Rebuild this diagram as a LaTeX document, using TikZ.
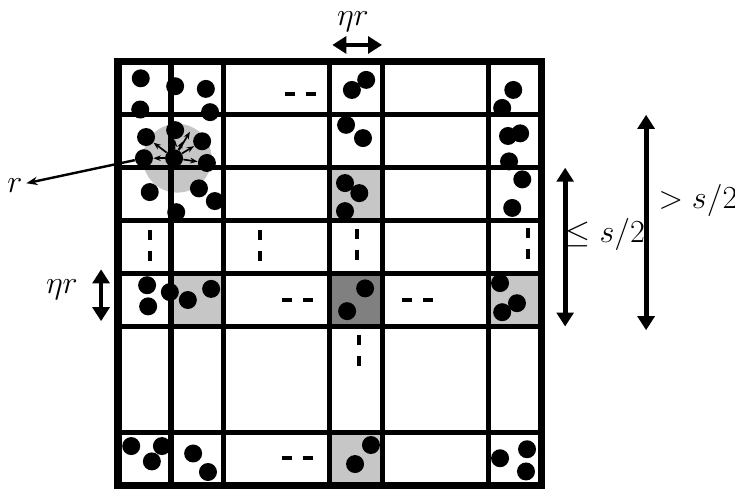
\documentclass[tikz,border=0pt]{standalone}
\usetikzlibrary{arrows.meta,positioning}

\begin{document}
\begin{tikzpicture}[
  dot/.style={circle,fill=black,inner sep=0pt,minimum size=0.34cm},
  cellline/.style={line width=2.8pt},
  ellip/.style={line width=2.2pt,dash pattern=on 0.19cm off 0.2cm},
  measure/.style={line width=2.6pt,{Triangle[length=7.5pt,width=9pt]}-{Triangle[length=7.5pt,width=9pt]}},
  spoke/.style={line width=0.9pt,-{Stealth[length=4pt]}},
  lbl/.style={font=\fontsize{16}{19}\selectfont,inner sep=0pt}
]
\useasboundingbox (-2.23,-0.08) rectangle (11.66,9.17);

% shaded cells and neighbourhood
\fill[gray!45] (4,5) rectangle (5,6);
\fill[gray!45] (1,3) rectangle (2,4);
\fill[gray] (4,3) rectangle (5,4);
\fill[gray!45] (7,3) rectangle (8,4);
\fill[gray!45] (4,0) rectangle (5,1);
\fill[gray!45] (1.12,6.18) circle (0.65);

% grid
\foreach \x in {1,2,4,5,7} \draw[cellline] (\x,0) -- (\x,8);
\foreach \y in {1,3,4,5,6,7} \draw[cellline] (0,\y) -- (8,\y);
\draw[line width=3.8pt] (0,0) rectangle (8,8);

% points
\node[dot] (ctr) at (1.06,6.18) {};
\foreach \x/\y [count=\i] in {0.43/7.69,1.08/7.54,1.66/7.49,0.42/7.10,1.74/7.05,1.08/6.71,0.53/6.58,1.59/6.50,0.49/6.18,1.68/6.09,0.60/5.54,1.53/5.61,1.83/5.37,1.10/5.16}
  \node[dot] (tl\i) at (\x,\y) {};
\foreach \x/\y [count=\i] in {4.42/7.47,4.69/7.66,4.31/6.81,4.63/6.56,4.29/5.71,4.56/5.52,4.29/5.18}
  \node[dot] (cm\i) at (\x,\y) {};
\foreach \x/\y [count=\i] in {7.47/7.47,7.26/7.13,7.60/6.65,7.37/6.60,7.39/6.12,7.64/5.78,7.45/5.24}
  \node[dot] (cr\i) at (\x,\y) {};
\foreach \x/\y [count=\i] in {0.55/3.78,0.57/3.38,0.98/3.65,1.32/3.50,1.76/3.71,4.67/3.72,4.33/3.29,7.22/3.82,7.54/3.44,7.26/3.27}
  \node[dot] (mr\i) at (\x,\y) {};
\foreach \x/\y [count=\i] in {0.25/0.74,0.64/0.45,0.83/0.74,1.42/0.60,1.70/0.25,4.48/0.40,4.78/0.76,7.22/0.51,7.73/0.68,7.71/0.26}
  \node[dot] (bt\i) at (\x,\y) {};

% neighbours of the centre point
\coordinate (sp1) at (1.36,6.68);
\coordinate (sp2) at (1.23,6.50);
\draw[spoke] (ctr) -- (tl7);
\draw[spoke] (ctr) -- (tl6);
\draw[spoke] (ctr) -- (sp1);
\draw[spoke] (ctr) -- (sp2);
\draw[spoke] (ctr) -- (tl8);
\draw[spoke] (ctr) -- (tl10);
\draw[spoke] (ctr) -- (tl9);

\node[lbl] (rlab) at (-1.95,5.66) {$r$};
\draw[line width=1.3pt,-{Stealth[length=6pt]},shorten >=2pt] (tl9) -- (rlab);

% omitted cells
\draw[ellip] (3.16,7.39) -- (3.75,7.39);
\draw[ellip] (3.10,3.50) -- (3.69,3.50);
\draw[ellip] (5.37,3.50) -- (5.96,3.50);
\draw[ellip] (3.10,0.51) -- (3.69,0.51);
\draw[ellip] (0.60,4.82) -- (0.60,4.23);
\draw[ellip] (2.68,4.82) -- (2.68,4.23);
\draw[ellip] (4.52,4.84) -- (4.52,4.25);
\draw[ellip] (7.75,4.86) -- (7.75,4.27);
\draw[ellip] (4.56,2.84) -- (4.56,2.25);

% sizes
\coordinate (wl) at (4.05,8.32);
\coordinate (wr) at (4.99,8.32);
\draw[measure] (wl) -- (wr);
\node[lbl] (etatop) at (4.44,8.76) {$\eta r$};

\coordinate (hu) at (-0.32,4.08);
\coordinate (hd) at (-0.32,3.10);
\draw[measure] (hu) -- (hd);
\node[lbl] (etaleft) at (-1.06,3.69) {$\eta r$};

\coordinate (su) at (8.45,6.0);
\coordinate (sd) at (8.45,3.0);
\draw[measure] (su) -- (sd);
\node[lbl] (shalf) at (9.21,4.73) {$\leq s/2$};

\coordinate (lu) at (9.98,7.0);
\coordinate (ld) at (9.98,2.93);
\draw[measure] (lu) -- (ld);
\node[lbl] (lhalf) at (10.96,5.39) {$> s/2$};

\end{tikzpicture}
\end{document}
